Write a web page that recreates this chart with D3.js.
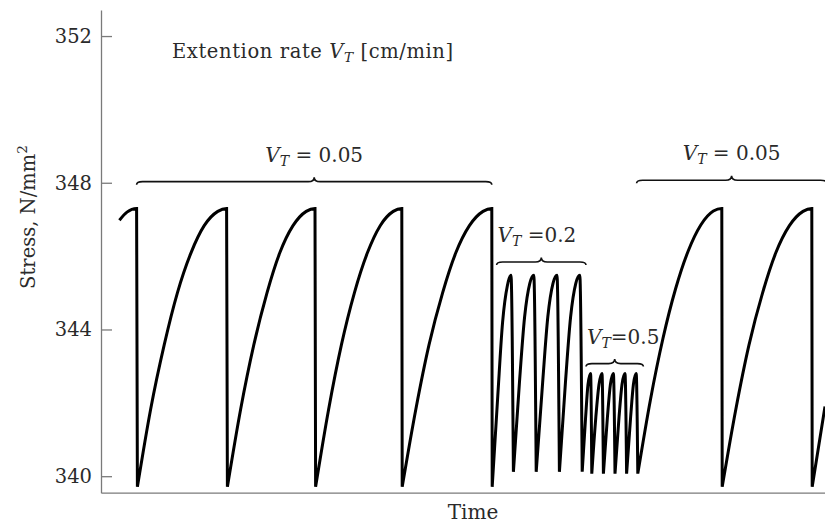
<!DOCTYPE html>
<html>
<meta charset="utf-8">
<head>
<style>
body { margin: 0; background: #fff; }
text { font-family: "DejaVu Serif", serif; fill: #2a2a2a; }
</style>
<script src="https://d3js.org/d3.v7.min.js"></script>
</head>
<body>
<svg width="825" height="524"></svg>
<script>
// y ticks, N/mm^2
var stressTicks = [340, 344, 348, 352];

// stress record [time, stress]; each inner array is one tooth, trough -> peak
var rate005a = [
  [[4.6, 346.98], [6.5, 347.2], [8.9, 347.30]],
  [[9.1, 339.71], [12.4, 341.82], [15.8, 343.58], [19.1, 345.0], [22.5, 346.09], [25.8, 346.83], [29.2, 347.22], [31.4, 347.30]],
  [[31.6, 339.71], [34.9, 341.82], [38.2, 343.58], [41.5, 345.0], [44.7, 346.09], [48.0, 346.83], [51.3, 347.22], [53.5, 347.30]],
  [[53.65, 339.71], [56.9, 341.82], [60.1, 343.58], [63.35, 345.0], [66.6, 346.09], [69.8, 346.83], [73.05, 347.22], [75.2, 347.30]],
  [[75.3, 339.71], [78.7, 341.82], [82.0, 343.58], [85.4, 345.0], [88.7, 346.09], [92.1, 346.83], [95.5, 347.22], [97.7, 347.30]]
];
var rate02 = [
  [[97.8, 339.71], [99.2, 342.2], [100.4, 344.2], [101.6, 345.2], [102.5, 345.48]],
  [[103.1, 340.12], [104.6, 342.54], [105.9, 344.34], [107.2, 345.26], [108.2, 345.48]],
  [[108.8, 340.12], [110.4, 342.54], [111.7, 344.34], [113.0, 345.26], [114.0, 345.48]],
  [[114.6, 340.12], [116.1, 342.54], [117.4, 344.34], [118.7, 345.26], [119.7, 345.48]]
];
var rate05 = [
  [[120.3, 340.12], [121.15, 341.6], [121.75, 342.5], [122.4, 342.8]],
  [[122.7, 340.07], [123.7, 341.6], [124.5, 342.5], [125.25, 342.8]],
  [[125.6, 340.07], [126.6, 341.6], [127.35, 342.5], [128.1, 342.8]],
  [[128.5, 340.07], [129.5, 341.6], [130.25, 342.5], [131.0, 342.8]],
  [[131.4, 340.07], [132.4, 341.6], [133.1, 342.5], [133.8, 342.8]]
];
var rate005b = [
  [[134.2, 340.07], [137.35, 342.08], [140.5, 343.76], [143.65, 345.11], [146.8, 346.14], [149.95, 346.85], [153.1, 347.23], [155.2, 347.30]],
  [[155.3, 339.71], [158.7, 341.82], [162.0, 343.58], [165.4, 345.0], [168.7, 346.09], [172.1, 346.83], [175.5, 347.22], [177.7, 347.30]],
  [[177.8, 339.71], [181, 341.9]]
];

// braces over each rate section
var braceRates = ["0.05", "0.2", "0.5", "0.05"];
var braceFrom  = [8.9, 98.9, 121.25, 133.9];
var braceTo    = [97.7, 121.25, 135.6, 181.4];
var braceLevel = [348.03, 345.84, 343.07, 348.07];

var svg = d3.select("svg");

var x = d3.scaleLinear().domain([0, 181]).range([101, 825]);
var y = d3.scaleLinear().domain([339.55, 352.71]).range([492.7, 10]);

svg.append("clipPath").attr("id", "plot")
  .append("rect").attr("x", 101).attr("y", 0).attr("width", 724).attr("height", 493);

// axes
var yAxis = svg.append("g")
    .attr("transform", "translate(101,0)")
    .call(d3.axisLeft(y).tickValues(stressTicks).tickSizeInner(-11).tickSizeOuter(0).tickPadding(9));
yAxis.selectAll("path, line").attr("stroke", "#7a7a7a").attr("stroke-width", 1.3);
yAxis.selectAll("text").attr("font-family", "DejaVu Serif").attr("font-size", 19.5).attr("fill", "#2a2a2a");

var xAxis = svg.append("g")
    .attr("transform", "translate(0,492.7)")
    .call(d3.axisBottom(x).tickValues([]).tickSizeOuter(0));
xAxis.select("path").attr("stroke", "#7a7a7a").attr("stroke-width", 1.3);

// curve: each tooth runs on to the next trough so the tops round over
var line = d3.line()
    .x(function(d) { return x(d[0]); })
    .y(function(d) { return y(d[1]); })
    .curve(d3.curveMonotoneX);

var teeth = rate005a.concat(rate02, rate05, rate005b);
var dPath = teeth.map(function(t, i) {
  var pts = i < teeth.length - 1 ? t.concat([teeth[i + 1][0]]) : t;
  var s = line(pts);
  return i ? "L" + s.slice(1) : s;
}).join("");

svg.append("path")
    .attr("clip-path", "url(#plot)")
    .attr("d", dPath)
    .attr("fill", "none")
    .attr("stroke", "#000")
    .attr("stroke-width", 3);

// braces
function bracePath(x0, x1, yb) {
  var xm = (x0 + x1) / 2, e = 3, h = 4.5, r = 6;
  return "M" + x0 + "," + (yb + e) +
    "Q" + x0 + "," + yb + " " + (x0 + r) + "," + yb +
    "L" + (xm - r) + "," + yb +
    "Q" + xm + "," + yb + " " + xm + "," + (yb - h) +
    "Q" + xm + "," + yb + " " + (xm + r) + "," + yb +
    "L" + (x1 - r) + "," + yb +
    "Q" + x1 + "," + yb + " " + x1 + "," + (yb + e);
}

braceRates.forEach(function(rate, i) {
  var x0 = x(braceFrom[i]), x1 = x(braceTo[i]), yb = y(braceLevel[i]);
  svg.append("path")
      .attr("clip-path", "url(#plot)")
      .attr("d", bracePath(x0, x1, yb))
      .attr("fill", "none")
      .attr("stroke", "#111")
      .attr("stroke-width", 1.6);

  var wide = (rate === "0.05");
  var t = svg.append("text")
      .attr("font-size", 20)
      .attr("x", wide ? (x0 + x1) / 2 : x0 + 1)
      .attr("y", yb - 20)
      .attr("text-anchor", wide ? "middle" : "start");
  t.append("tspan").attr("font-style", "italic").text("V");
  t.append("tspan").attr("font-style", "italic").attr("font-size", "0.7em").attr("dy", 4).text("T");
  t.append("tspan").attr("dy", -4).text(wide ? " = " + rate : (i === 1 ? " =" : "=") + rate);
});

// title note
var note = svg.append("text").attr("x", 172).attr("y", 58)
    .attr("font-size", 19.5).attr("letter-spacing", 0.6);
note.append("tspan").text("Extention rate ");
note.append("tspan").attr("font-style", "italic").text("V");
note.append("tspan").attr("font-style", "italic").attr("font-size", "0.7em").attr("dy", 4).text("T");
note.append("tspan").attr("dy", -4).text(" [cm/min]");

// axis titles
svg.append("text")
    .attr("x", 473).attr("y", 519)
    .attr("text-anchor", "middle")
    .attr("font-size", 20)
    .text("Time");

var yt = svg.append("text")
    .attr("transform", "translate(35,217) rotate(-90)")
    .attr("text-anchor", "middle")
    .attr("font-size", 19.5);
yt.append("tspan").text("Stress, N/mm");
yt.append("tspan").attr("font-size", "0.7em").attr("dy", -8).text("2");
</script>
</body>
</html>
